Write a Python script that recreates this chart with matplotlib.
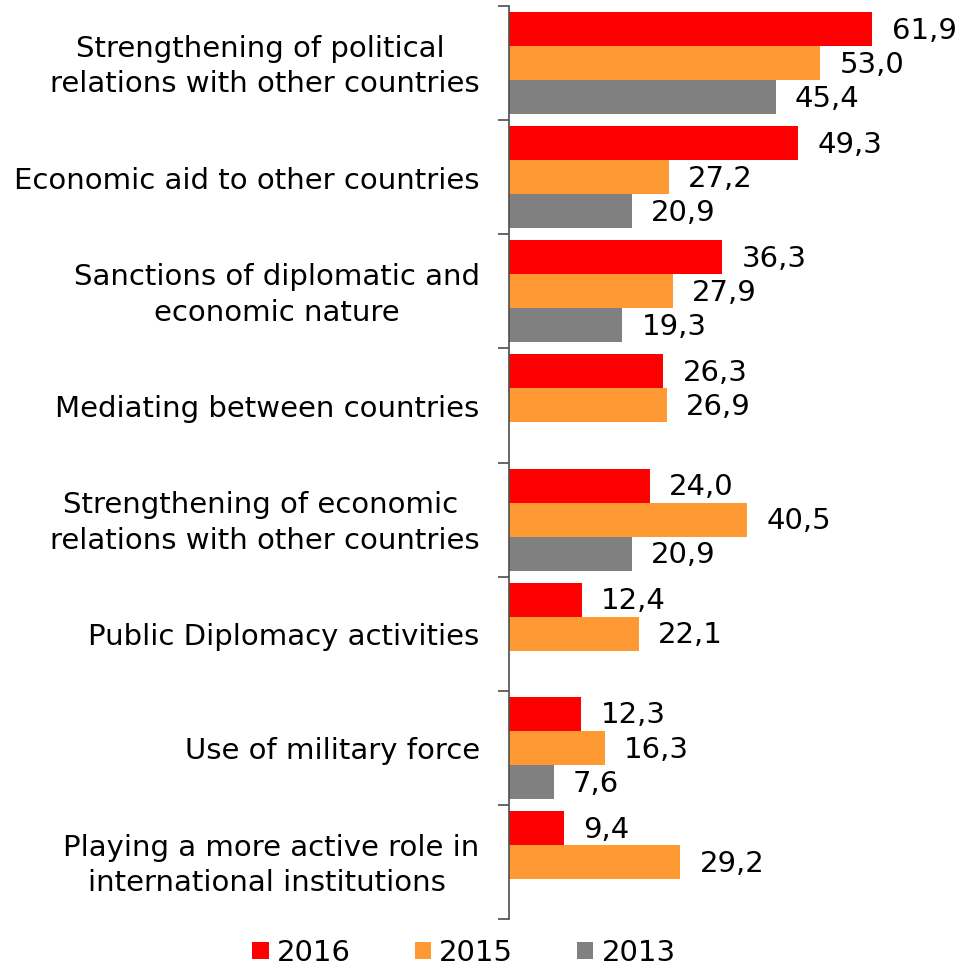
import matplotlib.pyplot as plt
import numpy as np

# data
categories = [
    "Strengthening of political \nrelations with other countries",
    "Economic aid to other countries",
    "Sanctions of diplomatic and\neconomic nature",
    "Mediating between countries",
    "Strengthening of economic \nrelations with other countries",
    "Public Diplomacy activities",
    "Use of military force",
    "Playing a more active role in\ninternational institutions ",
]
values_2016 = [61.9, 49.3, 36.3, 26.3, 24.0, 12.4, 12.3, 9.4]
values_2015 = [53.0, 27.2, 27.9, 26.9, 40.5, 22.1, 16.3, 29.2]
values_2013 = [45.4, 20.9, 19.3, None, 20.9, None, 7.6, None]
series_names = ["2016", "2015", "2013"]
colors = ["#FF0000", "#FF9933", "#808080"]

fig = plt.figure(figsize=(9.61, 9.67), dpi=100)
ax = fig.add_axes([509/961, 1-919/967, 1-509/961, (919-6)/967])

y = np.arange(len(categories))
bar_h = 34/114
offsets = [-bar_h, 0, bar_h]
all_series = [values_2016, values_2015, values_2013]

for vals, off, col, name in zip(all_series, offsets, colors, series_names):
    idx = [i for i, v in enumerate(vals) if v is not None]
    v = [vals[i] for i in idx]
    ax.barh(y[idx] + off, v, height=bar_h, color=col, label=name)
    for i, val in zip(idx, v):
        ax.text(val + 3.3, y[i] + off + 0.015, ("%.1f" % val).replace(".", ","),
                va="center", ha="left", fontsize=21)

ax.set_ylim(len(categories) - 0.5, -0.5)
ax.set_xlim(0, 77)
ax.set_yticks(np.arange(len(categories) + 1) - 0.5)
ax.set_yticklabels([])
ax.tick_params(axis="y", length=8, width=1.2, color="#4d4d4d", direction="out")
ax.set_xticks([])
for s in ["top", "right", "bottom"]:
    ax.spines[s].set_visible(False)
ax.spines["left"].set_color("#4d4d4d")
ax.spines["left"].set_linewidth(1.2)

for i, cat in enumerate(categories):
    ax.text(-5.0, y[i] + 0.03, cat, ha="right", va="center", multialignment="center",
            fontsize=21, linespacing=1.35)

fig.legend(loc="center", bbox_to_anchor=(464/961, 1-953/967), ncol=3, frameon=False,
           fontsize=21, handlelength=0.55, handleheight=0.55, handletextpad=0.28,
           columnspacing=2.2, borderaxespad=0)

fig.savefig("out.png", dpi=100)
